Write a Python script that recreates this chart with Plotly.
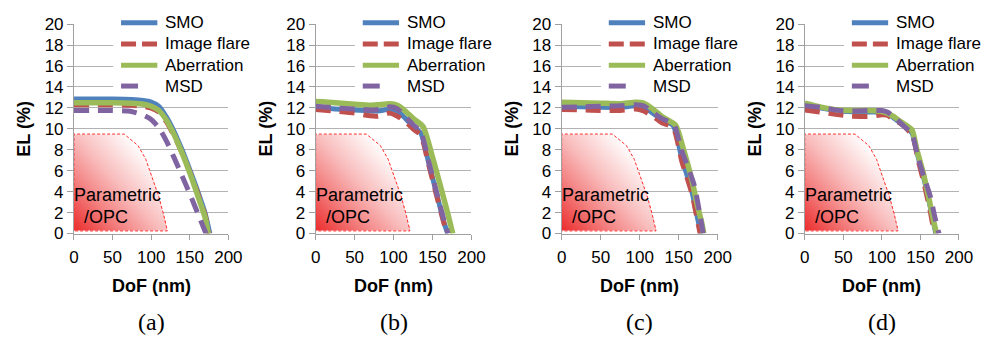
import numpy as np
import plotly.graph_objects as go

W, H = 998, 348
FONT = "Liberation Sans, Arial, sans-serif"

# ---------------- data: depth of focus (nm) vs exposure latitude (%) ----------------
SERIES_NAMES = ["SMO", "Image flare", "Aberration", "MSD"]
PANEL_LABELS = ["(a)", "(b)", "(c)", "(d)"]
X_TICKS = [0, 50, 100, 150, 200]
Y_TICKS = [0, 2, 4, 6, 8, 10, 12, 14, 16, 18, 20]

# (a)
DOF_A_SMO = [0, 25, 50, 75, 90, 100, 110, 120, 130, 140, 150, 160, 170, 176]
EL_A_SMO = [12.85, 12.85, 12.85, 12.8, 12.7, 12.55, 12.15, 11.1, 9.7, 8.0, 6.1, 4.1, 1.9, 0]
DOF_A_FLARE = [0, 25, 50, 75, 90, 100, 110, 120, 130, 140, 150, 160, 170, 175]
EL_A_FLARE = [12.3, 12.3, 12.3, 12.25, 12.15, 11.98, 11.6, 10.65, 9.3, 7.7, 5.9, 3.9, 1.7, 0]
DOF_A_ABER = [0, 25, 50, 75, 90, 100, 110, 120, 130, 140, 150, 160, 170, 174]
EL_A_ABER = [12.5, 12.5, 12.5, 12.45, 12.35, 12.15, 11.75, 10.8, 9.4, 7.7, 5.8, 3.7, 1.5, 0]
DOF_A_MSD = [0, 25, 50, 70, 80, 90, 100, 110, 120, 130, 140, 150, 160, 171]
EL_A_MSD = [11.75, 11.75, 11.75, 11.7, 11.55, 11.3, 10.9, 10.1, 8.8, 7.2, 5.5, 3.8, 2.0, 0]

# (b)
DOF_B_SMO = [0, 25, 50, 75, 85, 95, 105, 115, 125, 135, 145, 155, 165, 169.5]
EL_B_SMO = [12.05, 11.9, 11.8, 11.7, 11.75, 11.9, 11.7, 11.0, 10.2, 9.6, 6.8, 3.9, 1.0, 0]
DOF_B_FLARE = [0, 25, 50, 65, 80, 95, 105, 115, 125, 135, 145, 155, 165, 169]
EL_B_FLARE = [11.85, 11.7, 11.5, 11.3, 11.2, 11.5, 11.2, 10.7, 10.0, 9.4, 6.6, 3.7, 0.9, 0]
DOF_B_ABER = [0, 25, 50, 70, 80, 95, 105, 115, 125, 138, 150, 160, 170, 176]
EL_B_ABER = [12.6, 12.5, 12.35, 12.25, 12.3, 12.4, 12.25, 11.7, 11.0, 10.2, 7.3, 4.6, 1.8, 0]
DOF_B_MSD = [0, 25, 50, 75, 85, 95, 105, 115, 125, 135, 145, 155, 165, 170]
EL_B_MSD = [12.15, 12.0, 11.9, 11.8, 11.9, 12.1, 11.9, 11.2, 10.4, 9.7, 6.9, 4.0, 1.2, 0]

# (c)
DOF_C_SMO = [0, 25, 50, 75, 95, 105, 115, 128, 143, 154, 167, 175, 178.5]
EL_C_SMO = [12.15, 12.1, 12.05, 12.05, 12.2, 12.05, 11.6, 10.9, 10.3, 7.2, 4.0, 1.2, 0]
DOF_C_FLARE = [0, 25, 50, 75, 95, 105, 115, 128, 143, 154, 167, 175, 177.5]
EL_C_FLARE = [11.85, 11.8, 11.75, 11.75, 11.9, 11.7, 11.3, 10.6, 10.1, 6.9, 3.8, 0.9, 0]
DOF_C_ABER = [0, 25, 50, 75, 95, 105, 115, 130, 146, 156, 167, 173, 180, 182]
EL_C_ABER = [12.55, 12.5, 12.45, 12.4, 12.55, 12.45, 12.0, 11.1, 10.35, 8.1, 5.1, 3.0, 0.9, 0]
DOF_C_MSD = [0, 25, 50, 75, 95, 105, 115, 128, 144, 153, 170, 179, 181.5]
EL_C_MSD = [12.05, 12.1, 12.15, 12.2, 12.3, 12.2, 11.7, 11.0, 10.4, 8.1, 4.6, 1.05, 0]

# (d)
DOF_D_SMO = [0, 20, 45, 70, 90, 100, 110, 125, 139, 145, 154, 162, 168, 170]
EL_D_SMO = [12.2, 12.0, 11.7, 11.6, 11.6, 11.55, 11.3, 10.5, 9.6, 7.9, 5.4, 2.8, 0.7, 0]
DOF_D_FLARE = [0, 20, 40, 60, 86, 100, 107, 115, 128, 140, 147, 155, 163, 168]
EL_D_FLARE = [11.8, 11.6, 11.4, 11.2, 11.2, 11.35, 11.3, 10.9, 10.3, 9.3, 7.0, 4.7, 2.0, 0]
DOF_D_ABER = [0, 20, 44, 70, 86, 103, 115, 124, 139, 145, 154, 162, 168, 171]
EL_D_ABER = [12.45, 12.1, 11.8, 11.75, 11.75, 11.6, 11.2, 10.7, 9.9, 8.1, 5.7, 3.0, 0.9, 0]
DOF_D_MSD = [0, 20, 45, 60, 86, 100, 107, 115, 125, 139, 147, 155, 163, 168, 174]
EL_D_MSD = [12.2, 12.05, 11.75, 11.7, 11.75, 11.75, 11.6, 11.2, 10.5, 9.5, 7.2, 5.3, 3.5, 1.8, 0]

# Parametric/OPC reference region (same outline in every panel)
REGION_DOF = [0, 0, 65, 83, 93, 102, 110, 116.5, 121, 0]
REGION_EL = [0.25, 9.5, 9.5, 8.4, 7.1, 5.3, 3.5, 1.7, 0.25, 0.25]

PANELS = [
    [(DOF_A_SMO, EL_A_SMO), (DOF_A_FLARE, EL_A_FLARE), (DOF_A_ABER, EL_A_ABER), (DOF_A_MSD, EL_A_MSD)],
    [(DOF_B_SMO, EL_B_SMO), (DOF_B_FLARE, EL_B_FLARE), (DOF_B_ABER, EL_B_ABER), (DOF_B_MSD, EL_B_MSD)],
    [(DOF_C_SMO, EL_C_SMO), (DOF_C_FLARE, EL_C_FLARE), (DOF_C_ABER, EL_C_ABER), (DOF_C_MSD, EL_C_MSD)],
    [(DOF_D_SMO, EL_D_SMO), (DOF_D_FLARE, EL_D_FLARE), (DOF_D_ABER, EL_D_ABER), (DOF_D_MSD, EL_D_MSD)],
]

# ---------------- styling ----------------
SERIES_STYLE = [
    dict(color="#4F81BD", width=5, dash="solid"),
    dict(color="#C0504D", width=5, dash="15px,9px"),
    dict(color="#9BBB59", width=5.5, dash="solid"),
    dict(color="#8064A2", width=5, dash="15px,9px"),
]
KEY_DASH = ["solid", "15px,6px", "solid", "17px,40px"]
GRID = "#b3b3b3"
AXIS = "#a0a0a0"

# plot-area pixel extents of each panel (left, right) and shared (top, bottom)
PANEL_PX = [(70.3, 227.7), (316.7, 475.5), (567.5, 726.5), (815.3, 972.5)]
TOP_PX, BOT_PX = 16.0, 237.5
KEY_ROWS_PX = [14.5, 37.0, 59.5, 81.5]


def px_x(v):
    return v / W


def px_y(v):
    return 1 - v / H


def inside_polygon(px, py, vx, vy):
    """Even-odd ray casting test for a grid of points."""
    res = np.zeros(px.shape, dtype=bool)
    n = len(vx)
    j = n - 1
    for i in range(n):
        xi, yi, xj, yj = vx[i], vy[i], vx[j], vy[j]
        crosses = (yi > py) != (yj > py)
        xint = (xj - xi) * (py - yi) / ((yj - yi) if yj != yi else 1e-12) + xi
        res ^= crosses & (px < xint)
        j = i
    return res


# gradient fill for the region: red at lower-left fading to white at upper-right
gx = np.arange(0.5, 121.5, 0.8)
gy = np.arange(0.3, 9.5, 0.08)
GX, GY = np.meshgrid(gx, gy)
shade = np.clip(0.5 * GX / 118.0 + 0.5 * GY / 9.5, 0, 1)
shade = np.where(inside_polygon(GX, GY, REGION_DOF, REGION_EL), shade, np.nan)
SHADE_SCALE = [[0.0, "rgb(235,40,40)"], [0.3, "rgb(244,135,135)"], [0.5, "rgb(249,190,190)"],
               [0.8, "rgb(255,255,255)"], [1.0, "rgb(255,255,255)"]]

fig = go.Figure()
layout = dict(
    width=W, height=H,
    margin=dict(l=0, r=0, t=0, b=0),
    paper_bgcolor="white", plot_bgcolor="white",
    font=dict(family=FONT, size=17, color="black"),
    showlegend=False,
)
annotations = []
shapes = []

for k, series in enumerate(PANELS):
    sfx = "" if k == 0 else str(k + 1)
    xa, ya = "x" + sfx, "y" + sfx
    left, right = PANEL_PX[k]

    fig.add_trace(go.Heatmap(
        x=gx, y=gy, z=shade, xaxis=xa, yaxis=ya, colorscale=SHADE_SCALE,
        zmin=0, zmax=1, showscale=False, hoverinfo="skip",
    ))
    fig.add_trace(go.Scatter(
        x=REGION_DOF, y=REGION_EL, mode="lines", xaxis=xa, yaxis=ya,
        line=dict(color="#ff2b2b", width=1, dash="3px,2px"), hoverinfo="skip",
    ))
    for name, (xs, ys), st in zip(SERIES_NAMES, series, SERIES_STYLE):
        fig.add_trace(go.Scatter(
            x=xs, y=ys, mode="lines", name=name, xaxis=xa, yaxis=ya,
            line=dict(color=st["color"], width=st["width"], dash=st["dash"],
                      shape="spline", smoothing=0.6),
        ))

    layout["xaxis" + sfx] = dict(
        domain=[px_x(left), px_x(right)], anchor=ya, range=[0, 200],
        tickmode="array", tickvals=X_TICKS, ticks="outside", ticklen=5,
        tickcolor=AXIS, showline=True, linecolor=AXIS, linewidth=1,
        showgrid=False, zeroline=False, tickfont=dict(size=17), ticklabelstandoff=3,
    )
    layout["yaxis" + sfx] = dict(
        domain=[px_y(BOT_PX), px_y(TOP_PX)], anchor=xa, range=[0, 20],
        tickmode="array", tickvals=Y_TICKS, ticks="outside", ticklen=6,
        tickcolor=AXIS, showline=True, linecolor=AXIS, linewidth=1,
        showgrid=True, gridcolor=GRID, gridwidth=1, zeroline=False,
        tickfont=dict(size=17),
    )

    # series key in the upper part of the panel
    shapes.append(dict(type="rect", xref="paper", yref="paper", layer="above",
                       x0=px_x(left + 40), x1=px_x(right + 0.5), y0=px_y(0), y1=px_y(91),
                       fillcolor="white", line=dict(width=0)))
    for name, st, kd, yc in zip(SERIES_NAMES, SERIES_STYLE, KEY_DASH, KEY_ROWS_PX):
        shapes.append(dict(type="line", xref="paper", yref="paper", layer="above",
                           x0=px_x(left + 48), x1=px_x(left + 85), y0=px_y(yc), y1=px_y(yc),
                           line=dict(color=st["color"], width=5, dash=kd)))
        annotations.append(dict(text=name, xref="paper", yref="paper", x=px_x(left + 92),
                                y=px_y(yc), xanchor="left", yanchor="middle", showarrow=False,
                                borderpad=0, font=dict(size=17)))

    cx = px_x((left + right) / 2)
    annotations += [
        dict(text="<b>EL (%)</b>", xref="paper", yref="paper", x=px_x(left - 51),
             y=px_y((TOP_PX + BOT_PX) / 2), textangle=-90, showarrow=False,
             xanchor="center", yanchor="middle", font=dict(size=18)),
        dict(text="<b>DoF (nm)</b>", xref="paper", yref="paper", x=cx, y=px_y(293),
             showarrow=False, xanchor="center", yanchor="middle", font=dict(size=18)),
        dict(text=PANEL_LABELS[k], xref="paper", yref="paper", x=cx, y=px_y(331),
             showarrow=False, xanchor="center", yanchor="middle",
             font=dict(family="Liberation Serif, Times New Roman, serif", size=24)),
        dict(text="Parametric", xref=xa, yref=ya, x=0, y=3.66, xshift=-1, showarrow=False,
             xanchor="left", yanchor="middle", borderpad=0, font=dict(size=18)),
        dict(text="/OPC", xref=xa, yref=ya, x=12, y=1.56, showarrow=False,
             xanchor="left", yanchor="middle", borderpad=0, font=dict(size=18)),
    ]

layout["annotations"] = annotations
layout["shapes"] = shapes
fig.update_layout(**layout)
fig.write_html("out.html")
